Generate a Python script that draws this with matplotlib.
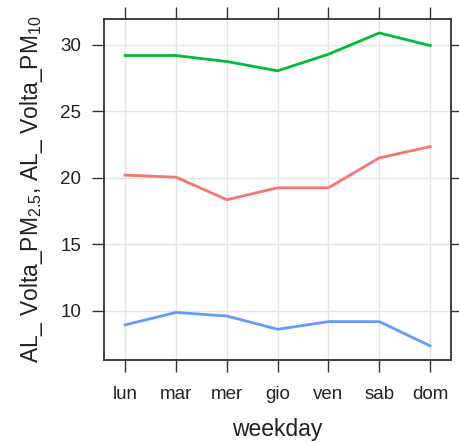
import matplotlib
matplotlib.use("Agg")
import matplotlib.pyplot as plt

days = ["lun", "mar", "mer", "gio", "ven", "sab", "dom"]
pm10 = [29.2, 29.2, 28.75, 28.05, 29.3, 30.9, 29.95]
pm25_total = [20.2, 20.05, 18.35, 19.25, 19.25, 21.5, 22.35]
pm25 = [8.93, 9.87, 9.6, 8.6, 9.18, 9.18, 7.35]
yticks = [10, 15, 20, 25, 30]

plt.rcParams['font.family'] = ['Liberation Sans', 'DejaVu Sans']
plt.rcParams['mathtext.default'] = 'regular'

fig = plt.figure(figsize=(4.6, 4.43), dpi=100)
ax = fig.add_axes([104/460, 1-360/443, (451-104)/460, (360-19)/443])

x = list(range(1, len(days)+1))
ax.plot(x, pm10, color="#00BA38", lw=2.0, solid_joinstyle='round')
ax.plot(x, pm25_total, color="#F8766D", lw=2.0, solid_joinstyle='round')
ax.plot(x, pm25, color="#619CFF", lw=2.0, solid_joinstyle='round')

ax.set_xlim(0.585, 7.41)
ax.set_ylim(6.29, 31.95)
ax.set_xticks(x)
ax.set_xticklabels(days)
ax.set_yticks(yticks)
ax.grid(True, color="#E4E4E4", lw=1.0)
ax.set_axisbelow(True)

ax.tick_params(axis='both', direction='out', length=8.5, width=1.0, color='#333333',
               labelsize=13.5, labelcolor='#222222', top=True, right=True,
               labeltop=False, labelright=False, pad=4)
ax.tick_params(axis='x', pad=10)
ax.tick_params(axis='y', pad=8)
for s in ax.spines.values():
    s.set_color('#333333')
    s.set_linewidth(1.3)

ax.set_xlabel("weekday", fontsize=16.5, color='#222222', labelpad=11)
ax.set_ylabel("AL_ Volta_PM$_{2.5}$, AL_ Volta_PM$_{10}$", fontsize=16.5,
              color='#222222', labelpad=11)

fig.savefig("out.png", dpi=100)
